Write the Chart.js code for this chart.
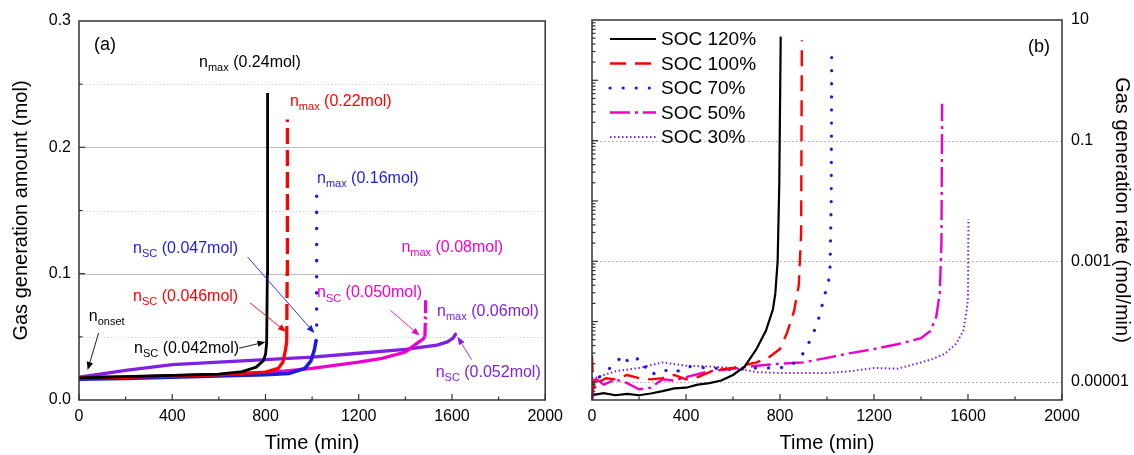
<!DOCTYPE html>
<html>
<head>
<meta charset="utf-8">
<script src="https://cdn.jsdelivr.net/npm/chart.js@4.4.1/dist/chart.umd.min.js"></script>
<style>
  html, body { margin: 0; padding: 0; background: #fff; }
  #wrap { position: relative; width: 1134px; height: 455px; overflow: hidden; }
  .panel { position: absolute; top: 0; height: 455px; }
</style>
</head>
<body>
<div id="wrap">
  <div class="panel" style="left:0;width:570px"><canvas id="chartA" width="570" height="455"></canvas></div>
  <div class="panel" style="left:570px;width:564px"><canvas id="chartB" width="564" height="455"></canvas></div>
</div>
<script>
// ---- data: panel (a) gas generation amount (mol) ----
const seriesNames = ['SOC 120%', 'SOC 100%', 'SOC 70%', 'SOC 50%', 'SOC 30%'];
// n_SC of each series: the curve turns into the styled spike above it
const scAmounts = [0.042, 0.046, 0.047, 0.050, 0.052];

const timeA120 = [0, 100, 200, 300, 400, 500, 600, 700, 760, 790, 800, 805, 808, 809];
const amountA120 = [0.0175, 0.018, 0.0185, 0.019, 0.0195, 0.020, 0.0205, 0.0225, 0.026, 0.031, 0.036, 0.045, 0.10, 0.243];

const timeA100 = [0, 100, 200, 300, 400, 500, 600, 700, 800, 855, 875, 886, 891, 893, 894];
const amountA100 = [0.0175, 0.018, 0.018, 0.0185, 0.019, 0.0195, 0.020, 0.021, 0.022, 0.025, 0.030, 0.040, 0.046, 0.10, 0.222];

const timeA70 = [0, 200, 400, 600, 800, 900, 969, 995, 1010, 1017, 1019, 1020];
const amountA70 = [0.0165, 0.017, 0.018, 0.019, 0.020, 0.021, 0.025, 0.031, 0.040, 0.047, 0.10, 0.162];

const timeA50 = [0, 200, 400, 600, 800, 1000, 1200, 1300, 1400, 1451, 1475, 1484, 1486, 1487];
const amountA50 = [0.017, 0.018, 0.019, 0.020, 0.0215, 0.025, 0.030, 0.033, 0.038, 0.045, 0.048, 0.050, 0.065, 0.079];

const timeA30 = [0, 200, 400, 600, 800, 1000, 1200, 1400, 1536, 1580, 1605, 1615, 1618];
const amountA30 = [0.018, 0.0235, 0.028, 0.030, 0.032, 0.034, 0.037, 0.040, 0.0435, 0.046, 0.049, 0.052, 0.055];

// ---- data: panel (b) gas generation rate (mol/min) ----
const timeB120 = [0, 50, 100, 150, 200, 250, 300, 350, 400, 450, 500, 550, 600, 650, 700, 740, 770, 780, 790, 797, 803];
const rateB120 = [6e-6, 6.5e-6, 6e-6, 6.3e-6, 6e-6, 6.4e-6, 7e-6, 7.8e-6, 8e-6, 9e-6, 9.5e-6, 1.05e-5, 1.3e-5, 1.8e-5, 3.5e-5, 7e-5, 1.6e-4, 2.9e-4, 1e-3, 2e-2, 5.3];

const timeB100 = [0, 5, 15, 30, 60, 100, 150, 200, 250, 300, 350, 400, 450, 500, 550, 600, 650, 700, 750, 800, 830, 860, 880, 890, 893];
const rateB100 = [2.7e-5, 8e-6, 1.2e-5, 1e-5, 1.15e-5, 1.1e-5, 1.3e-5, 1.15e-5, 1.1e-5, 1.15e-5, 1.3e-5, 1.1e-5, 1.2e-5, 1.45e-5, 1.6e-5, 1.7e-5, 1.9e-5, 2.1e-5, 2.5e-5, 3.5e-5, 6.5e-5, 1.5e-4, 4e-4, 3e-3, 4.6];

const timeB70 = [0, 20, 60, 100, 130, 160, 200, 250, 300, 350, 400, 500, 600, 700, 800, 850, 900, 940, 970, 990, 1005, 1013, 1018, 1020];
const rateB70 = [1.5e-5, 1.1e-5, 1.5e-5, 2e-5, 2.8e-5, 2e-5, 2.5e-5, 1.3e-5, 1.6e-5, 1.4e-5, 1.8e-5, 1.7e-5, 1.6e-5, 1.7e-5, 1.7e-5, 1.9e-5, 3e-5, 6e-5, 1.3e-4, 2.8e-4, 4e-4, 8e-4, 1e-2, 3.0];

const timeB50 = [0, 5, 20, 50, 100, 150, 200, 250, 300, 350, 400, 500, 600, 700, 800, 900, 1000, 1100, 1200, 1300, 1400, 1440, 1465, 1480, 1487, 1490];
const rateB50 = [1.2e-5, 6e-6, 1.1e-5, 9e-6, 1.1e-5, 9.5e-6, 7.5e-6, 8e-6, 1.1e-5, 1.05e-5, 1.2e-5, 1.5e-5, 1.65e-5, 1.85e-5, 2e-5, 2.1e-5, 2.5e-5, 3e-5, 3.5e-5, 4.2e-5, 5.3e-5, 7e-5, 1.2e-4, 3e-4, 2e-3, 0.41];

const timeB30 = [0, 50, 100, 200, 300, 400, 500, 600, 700, 800, 900, 1000, 1100, 1200, 1300, 1400, 1450, 1500, 1550, 1580, 1595, 1600, 1602];
const rateB30 = [1.1e-5, 1.3e-5, 1.5e-5, 1.7e-5, 2.1e-5, 1.85e-5, 1.8e-5, 1.7e-5, 1.45e-5, 1.4e-5, 1.4e-5, 1.4e-5, 1.5e-5, 1.7e-5, 1.65e-5, 2.1e-5, 2.4e-5, 2.9e-5, 4.3e-5, 7e-5, 1.6e-4, 2.5e-4, 5e-3];

// ---- tick labels ----
const timeTickValues = [0, 400, 800, 1200, 1600, 2000];
const amountTickValues = [0, 0.1, 0.2, 0.3];
const amountTickLabels = ['0.0', '0.1', '0.2', '0.3'];
const rateTickValues = [1e-5, 1e-3, 1e-1, 10];
const rateTickLabels = ['0.00001', '0.001', '0.1', '10'];

// ---- styling ----
const FONT = '"Liberation Sans", Arial, Helvetica, sans-serif';
const colors = ['#000000', '#ff0000', '#1c1cdc', '#ee00cc', '#8020e0'];
const dashesA = [[], [16, 6], [0.1, 16], [14, 4, 2, 4], [0.1, 6]];
const dashesB = [[], [16, 9], [0.1, 13], [20, 5, 3, 5], [1.5, 2.5]];
const widthsA = [2.8, 3.3, 3.5, 3.3, 3.3];
const widthsB = [2.2, 2.4, 3.2, 2.4, 2];
const capsA = ['butt', 'butt', 'round', 'butt', 'round'];
const capsB = ['butt', 'butt', 'round', 'butt', 'butt'];

// annotations of panel (a), positioned in data units
const labelsA = [
  { t: 'n', s: 'max', r: ' (0.24mol)', x: 515, y: 0.267, c: 0 },
  { t: 'n', s: 'max', r: ' (0.22mol)', x: 905, y: 0.236, c: 1 },
  { t: 'n', s: 'max', r: ' (0.16mol)', x: 1021, y: 0.175, c: 2 },
  { t: 'n', s: 'SC', r: ' (0.047mol)', x: 232, y: 0.120, c: 2 },
  { t: 'n', s: 'max', r: ' (0.08mol)', x: 1383, y: 0.121, c: 3 },
  { t: 'n', s: 'SC', r: ' (0.046mol)', x: 232, y: 0.0816, c: 1 },
  { t: 'n', s: 'SC', r: ' (0.050mol)', x: 1021, y: 0.0847, c: 3 },
  { t: 'n', s: 'max', r: ' (0.06mol)', x: 1536, y: 0.0697, c: 4 },
  { t: 'n', s: 'onset', r: '', x: 42, y: 0.066, c: 0 },
  { t: 'n', s: 'SC', r: ' (0.042mol)', x: 236, y: 0.041, c: 0 },
  { t: 'n', s: 'SC', r: ' (0.052mol)', x: 1530, y: 0.022, c: 4 }
];
const arrowsA = [
  { x1: 84, y1: 0.053, x2: 37, y2: 0.0238, c: 0 },
  { x1: 687, y1: 0.041, x2: 800, y2: 0.046, c: 0 },
  { x1: 733, y1: 0.077, x2: 888, y2: 0.054, c: 1 },
  { x1: 724, y1: 0.113, x2: 1010, y2: 0.053, c: 2 },
  { x1: 1336, y1: 0.071, x2: 1461, y2: 0.051, c: 3 },
  { x1: 1684, y1: 0.032, x2: 1624, y2: 0.050, c: 4 }
];

function toPoints(xs, ys) {
  return xs.map((x, i) => ({ x: x, y: ys[i] }));
}

function buildDatasets(pairs, dashes, widths, caps, thresholds) {
  return pairs.map((p, i) => {
    const ds = {
      label: seriesNames[i],
      data: toPoints(p[0], p[1]),
      borderColor: colors[i],
      borderWidth: widths[i],
      borderDash: dashes[i],
      borderCapStyle: caps[i],
      pointRadius: 0,
      tension: 0,
      fill: false
    };
    if (thresholds) {
      // solid along the slow rise, styled on the spike
      ds.borderDash = [];
      ds.segment = {
        borderDash: ctx => ctx.p0.parsed.y >= thresholds[i] - 0.0015 ? dashes[i] : [],
        borderCapStyle: ctx => ctx.p0.parsed.y >= thresholds[i] - 0.0015 ? caps[i] : 'butt'
      };
    }
    return ds;
  });
}

/**
 * Panel decorations: grid lines, frame, inward ticks, labels, legend
 */
const panelPlugin = {
  id: 'panel',
  beforeDatasetsDraw(chart, args, opts) {
    const { ctx, chartArea: a, scales } = chart;
    ctx.save();
    (opts.grid || []).forEach(g => {
      const y = Math.round(scales.y.getPixelForValue(g.v)) + 0.5;
      ctx.strokeStyle = g.color;
      ctx.lineWidth = 1;
      ctx.setLineDash(g.dash);
      ctx.beginPath();
      ctx.moveTo(a.left, y);
      ctx.lineTo(a.right, y);
      ctx.stroke();
    });
    ctx.restore();
  },
  afterDatasetsDraw(chart, args, opts) {
    const { ctx, chartArea: a, scales } = chart;
    ctx.save();
    ctx.setLineDash([]);
    ctx.strokeStyle = '#333';
    ctx.lineWidth = 1.5;
    ctx.strokeRect(a.left, a.top, a.right - a.left, a.bottom - a.top);

    // inward x ticks
    ctx.lineWidth = 1.2;
    for (let v = 0; v <= 2000; v += 200) {
      const x = scales.x.getPixelForValue(v);
      const len = v % 400 === 0 ? 6 : 3.5;
      ctx.beginPath();
      ctx.moveTo(x, a.bottom);
      ctx.lineTo(x, a.bottom - len);
      ctx.stroke();
    }
    // inward y ticks on the left edge
    (opts.yTicks || []).forEach(t => {
      const y = scales.y.getPixelForValue(t.v);
      ctx.beginPath();
      ctx.moveTo(a.left, y);
      ctx.lineTo(a.left + t.len, y);
      ctx.stroke();
    });

    // panel tag
    if (opts.tag) {
      ctx.fillStyle = '#000';
      ctx.font = '18px ' + FONT;
      ctx.textBaseline = 'middle';
      ctx.textAlign = opts.tag.side;
      const tx = opts.tag.side === 'left' ? a.left + opts.tag.dx : a.right + opts.tag.dx;
      ctx.fillText(opts.tag.text, tx, a.top + opts.tag.dy);
    }

    // annotations
    (opts.labels || []).forEach(l => {
      let x = scales.x.getPixelForValue(l.x);
      const y = scales.y.getPixelForValue(l.y);
      ctx.fillStyle = colors[l.c];
      ctx.textAlign = 'left';
      ctx.textBaseline = 'middle';
      ctx.font = '16px ' + FONT;
      ctx.fillText(l.t, x, y);
      x += ctx.measureText(l.t).width;
      ctx.font = '11px ' + FONT;
      ctx.fillText(l.s, x, y + 5.5);
      x += ctx.measureText(l.s).width;
      ctx.font = '16px ' + FONT;
      ctx.fillText(l.r, x, y);
    });
    (opts.arrows || []).forEach(r => {
      const x1 = scales.x.getPixelForValue(r.x1), y1 = scales.y.getPixelForValue(r.y1);
      const x2 = scales.x.getPixelForValue(r.x2), y2 = scales.y.getPixelForValue(r.y2);
      const ang = Math.atan2(y2 - y1, x2 - x1);
      const hl = 8, hw = 3.2;
      ctx.strokeStyle = colors[r.c];
      ctx.fillStyle = colors[r.c];
      ctx.lineWidth = 0.9;
      ctx.beginPath();
      ctx.moveTo(x1, y1);
      ctx.lineTo(x2 - Math.cos(ang) * hl, y2 - Math.sin(ang) * hl);
      ctx.stroke();
      ctx.beginPath();
      ctx.moveTo(x2, y2);
      ctx.lineTo(x2 - Math.cos(ang) * hl - Math.sin(ang) * hw, y2 - Math.sin(ang) * hl + Math.cos(ang) * hw);
      ctx.lineTo(x2 - Math.cos(ang) * hl + Math.sin(ang) * hw, y2 - Math.sin(ang) * hl - Math.cos(ang) * hw);
      ctx.closePath();
      ctx.fill();
    });

    // legend inside plot
    if (opts.legend) {
      chart.data.datasets.forEach((ds, i) => {
        const y = a.top + 19 + i * 24.5;
        ctx.strokeStyle = ds.borderColor;
        ctx.lineWidth = ds.borderWidth;
        ctx.lineCap = ds.borderCapStyle;
        ctx.setLineDash(ds.borderDash);
        ctx.beginPath();
        ctx.moveTo(a.left + 18, y);
        ctx.lineTo(a.left + 64, y);
        ctx.stroke();
        ctx.setLineDash([]);
        ctx.lineCap = 'butt';
        ctx.fillStyle = '#000';
        ctx.font = '19px ' + FONT;
        ctx.textAlign = 'left';
        ctx.textBaseline = 'middle';
        ctx.fillText(ds.label, a.left + 69, y + 1);
      });
    }
    ctx.restore();
  }
};

const tickFont = { family: FONT, size: 16 };

function xScale(h) {
  return {
    type: 'linear', min: 0, max: 2000,
    afterBuildTicks: s => { s.ticks = timeTickValues.map(v => ({ value: v })); },
    afterFit: s => { s.height = h; },
    grid: { display: false, drawTicks: false },
    border: { display: false },
    ticks: { color: '#000', font: tickFont, padding: 7, maxRotation: 0, autoSkip: false, callback: v => String(v) },
    title: { display: true, text: 'Time (min)', color: '#000', font: { family: FONT, size: 20 }, padding: 0 }
  };
}

// ---- panel (a) ----
const gridA = [
  { v: 0.05, color: '#d4d4d4', dash: [1.5, 2] },
  { v: 0.15, color: '#d4d4d4', dash: [1.5, 2] },
  { v: 0.25, color: '#d4d4d4', dash: [1.5, 2] },
  { v: 0.1, color: '#bdbdbd', dash: [] },
  { v: 0.2, color: '#bdbdbd', dash: [] }
];
const yTicksA = [0.05, 0.1, 0.15, 0.2, 0.25].map(v => ({ v: v, len: (Math.round(v * 100) % 10 === 0) ? 6 : 3.5 }));

new Chart(document.getElementById('chartA'), {
  type: 'line',
  data: {
    datasets: buildDatasets(
      [[timeA120, amountA120], [timeA100, amountA100], [timeA70, amountA70], [timeA50, amountA50], [timeA30, amountA30]],
      dashesA, widthsA, capsA, scAmounts)
  },
  options: {
    responsive: false,
    animation: false,
    layout: { padding: { top: 21, right: 21, left: 0, bottom: 0 } },
    plugins: {
      legend: { display: false },
      tooltip: { enabled: false },
      panel: { grid: gridA, yTicks: yTicksA, labels: labelsA, arrows: arrowsA, tag: { text: '(a)', dx: 15, dy: 24, side: 'left' } }
    },
    scales: {
      x: xScale(55),
      y: {
        type: 'linear', min: 0, max: 0.3,
        afterBuildTicks: s => { s.ticks = amountTickValues.map(v => ({ value: v })); },
        afterFit: s => { s.width = 79; },
        grid: { display: false, drawTicks: false },
        border: { display: false },
        ticks: { color: '#000', font: tickFont, padding: 8, callback: (v, i) => amountTickLabels[i] },
        title: { display: true, text: 'Gas generation amount (mol)', color: '#000', font: { family: FONT, size: 20 }, padding: { top: 9, bottom: 0 } }
      }
    }
  },
  plugins: [panelPlugin]
});

// ---- panel (b) ----
const gridB = rateTickValues.slice(0, 3).map(v => ({ v: v, color: '#b8b8b8', dash: [2, 2] }));
const yTicksB = [];
for (let e = -6; e <= 0; e++) {
  for (let m = 1; m <= 9; m++) {
    const v = m * Math.pow(10, e);
    if (v >= 5e-6 && v <= 10) yTicksB.push({ v: v, len: m === 1 ? 6 : 3.5 });
  }
}

new Chart(document.getElementById('chartB'), {
  type: 'line',
  data: {
    datasets: buildDatasets(
      [[timeB120, rateB120], [timeB100, rateB100], [timeB70, rateB70], [timeB50, rateB50], [timeB30, rateB30]],
      dashesB, widthsB, capsB, null)
  },
  options: {
    responsive: false,
    animation: false,
    layout: { padding: { top: 20, right: 0, left: 22, bottom: 0 } },
    plugins: {
      legend: { display: false },
      tooltip: { enabled: false },
      panel: { grid: gridB, yTicks: yTicksB, legend: true, tag: { text: '(b)', dx: -12, dy: 27, side: 'right' } }
    },
    scales: {
      x: xScale(55),
      y: {
        type: 'logarithmic', position: 'right', min: 5e-6, max: 10,
        afterBuildTicks: s => { s.ticks = rateTickValues.map(v => ({ value: v })); },
        afterFit: s => { s.width = 72; },
        grid: { display: false, drawTicks: false },
        border: { display: false },
        ticks: { color: '#000', font: tickFont, padding: 9, callback: (v, i) => rateTickLabels[i] },
        title: { display: true, text: 'Gas generation rate (mol/min)', color: '#000', font: { family: FONT, size: 20 }, padding: { top: 0, bottom: 0 } }
      }
    }
  },
  plugins: [panelPlugin]
});
</script>
</body>
</html>
